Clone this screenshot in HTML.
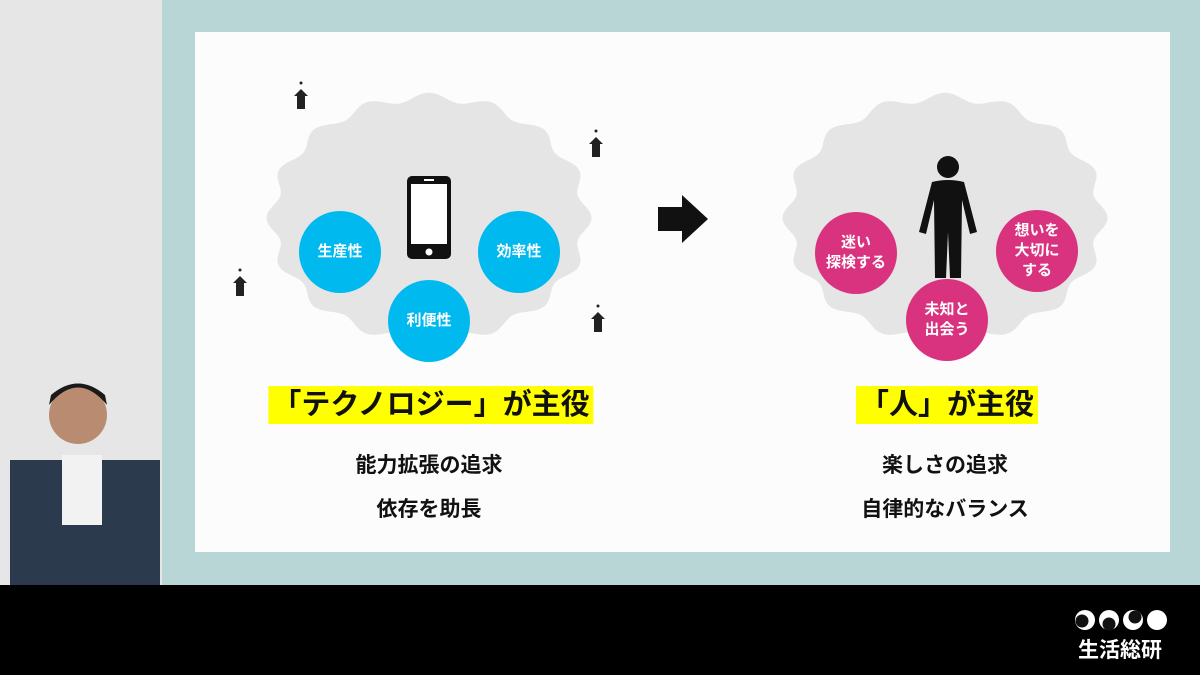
<!DOCTYPE html>
<html><head><meta charset="utf-8"><style>
body{margin:0;width:1200px;height:675px;overflow:hidden;position:relative;background:#000;font-family:"Liberation Sans","Noto Sans CJK JP",sans-serif}
.a{position:absolute}
.t{position:absolute;font-weight:bold;color:#111;white-space:nowrap;transform:translateX(-50%)}
.c{position:absolute;border-radius:50%;color:#fff;font-weight:bold;font-size:15px;display:flex;align-items:center;justify-content:center;text-align:center;line-height:20px}
.hl{background:#ffff00;font-size:29px;padding:2px 4px;line-height:34px}
.s{font-size:21px}
</style></head><body>
<div class="a" style="left:0;top:0;width:162px;height:585px;background:#e6e6e6"></div>
<div class="a" style="left:162px;top:0;width:1038px;height:585px;background:#b8d6d6"></div>
<div class="a" style="left:195px;top:32px;width:975px;height:520px;background:#fcfcfc"></div>
<svg class="a" style="left:0;top:0" width="1200" height="675">
<defs><g id="pp" fill="#222"><circle cx="0" cy="-12" r="1.5"/><path d="M0 -6 L7 1 L4 1 L4 14 L-4 14 L-4 1 L-7 1Z"/></g></defs>
<path id="c1" fill="#e5e5e5"/>
<path id="c2" fill="#e5e5e5"/>
<use href="#pp" x="301" y="95"/><use href="#pp" x="596" y="143"/><use href="#pp" x="240" y="282"/><use href="#pp" x="598" y="318"/>
<rect x="407" y="176" width="44" height="83" rx="5" fill="#111"/><rect x="411" y="184" width="36" height="60" fill="#fff"/><rect x="424" y="179" width="10" height="2" fill="#fff"/><circle cx="429" cy="252" r="3.5" fill="#fff"/>
<path d="M658 207 L682 207 L682 195 L708 219 L682 243 L682 231 L658 231Z" fill="#111"/>
<g fill="#111"><circle cx="948" cy="167" r="11"/><path d="M932 182 Q948 178 964 182 L977 232 L970 234 L962 200 L961 278 L950 278 L948 232 L946 278 L935 278 L934 200 L926 234 L919 232Z"/></g>
<g fill="#fff"><circle cx="1085" cy="620" r="10"/><circle cx="1109" cy="620" r="10"/><circle cx="1133" cy="620" r="10"/><circle cx="1157" cy="620" r="10"/></g>
<g fill="#111"><circle cx="1082" cy="621" r="6.5"/><circle cx="1109" cy="624" r="6.5"/><circle cx="1135" cy="617" r="6.5"/></g>
<rect x="10" y="460" width="150" height="125" fill="#2c3a4e"/><rect x="62" y="455" width="40" height="70" fill="#f2f2f2"/><circle cx="78" cy="415" r="29" fill="#b98c72"/><path d="M49 405 Q78 370 107 405 L105 395 Q78 372 51 395Z" fill="#1a1a1a"/>
</svg>
<script>
function cl(id,cx,cy,rx,ry){var d="";for(var i=0;i<=720;i++){var t=i/720*2*Math.PI;var k=1+0.035*Math.cos(16*t);d+=(i?"L":"M")+(cx+rx*k*Math.cos(t)).toFixed(1)+" "+(cy+ry*k*Math.sin(t)).toFixed(1);}document.getElementById(id).setAttribute("d",d+"Z");}
cl("c1",429,218,157,121);cl("c2",945,218,157,121);
</script>
<div class="c" style="left:299px;top:211px;width:82px;height:82px;background:#00b9ef">生産性</div>
<div class="c" style="left:478px;top:211px;width:82px;height:82px;background:#00b9ef">効率性</div>
<div class="c" style="left:388px;top:280px;width:82px;height:82px;background:#00b9ef">利便性</div>
<div class="c" style="left:815px;top:212px;width:82px;height:82px;background:#d9327f">迷い<br>探検する</div>
<div class="c" style="left:996px;top:210px;width:82px;height:82px;background:#d9327f">想いを<br>大切に<br>する</div>
<div class="c" style="left:906px;top:279px;width:82px;height:82px;background:#d9327f">未知と<br>出会う</div>
<div class="t hl" style="left:431px;top:386px">「テクノロジー」が主役</div>
<div class="t hl" style="left:947px;top:386px">「人」が主役</div>
<div class="t s" style="left:429px;top:449px">能力拡張の追求</div>
<div class="t s" style="left:429px;top:493px">依存を助長</div>
<div class="t s" style="left:945px;top:449px">楽しさの追求</div>
<div class="t s" style="left:945px;top:493px">自律的なバランス</div>
<div class="t" style="left:1120px;top:634px;color:#fff;font-size:21px">生活総研</div>
</body></html>
